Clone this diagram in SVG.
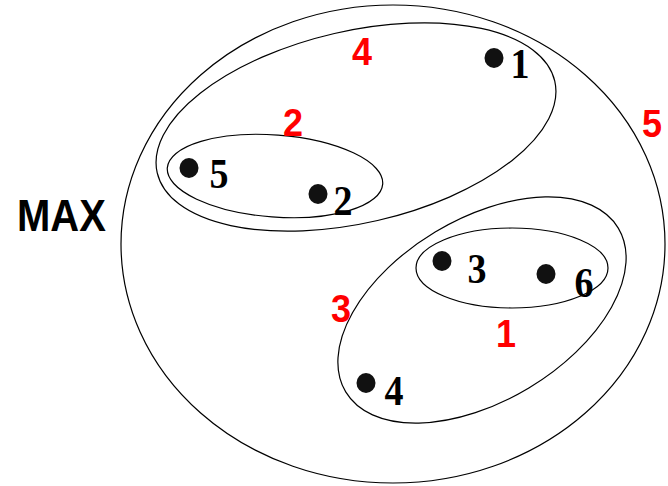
<svg xmlns="http://www.w3.org/2000/svg" width="668" height="486" viewBox="0 0 668 486">
<style>
.ring{fill:none;stroke:#000;stroke-width:1.2}
.dot{fill:#111}
.num{font-family:"Liberation Serif","Times New Roman",serif;font-weight:bold;font-size:38px;fill:#000;text-anchor:middle}
.red{font-family:"Liberation Sans",Arial,sans-serif;font-weight:bold;font-size:36px;fill:#ff0000;text-anchor:middle}
.max{font-family:"Liberation Sans",Arial,sans-serif;font-weight:bold;font-size:40px;fill:#000}
</style>
<rect width="668" height="486" fill="#fff"/>
<g id="connectors"/>
<g id="cluster5">
<ellipse class="ring" cx="393" cy="244" rx="272" ry="239"/>
<text class="red" transform="translate(652,137) scale(1,1.1)">5</text>
</g>
<g id="cluster4">
<ellipse class="ring" cx="356" cy="127" rx="204" ry="96" transform="rotate(-13 356 127)"/>
<text class="red" transform="translate(362,65) scale(1,1.1)">4</text>
</g>
<g id="cluster2">
<ellipse class="ring" cx="275" cy="176" rx="108" ry="41" transform="rotate(4.3 275 176)"/>
<text class="red" transform="translate(293,136) scale(1,1.1)">2</text>
</g>
<g id="cluster3">
<ellipse class="ring" cx="482" cy="310" rx="159" ry="91" transform="rotate(-31 482 310)"/>
<text class="red" transform="translate(341,322) scale(1,1.1)">3</text>
</g>
<g id="cluster1">
<ellipse class="ring" cx="512" cy="268" rx="96" ry="40"/>
<text class="red" transform="translate(506,347) scale(1,1.1)">1</text>
</g>
<g id="node1"><ellipse class="dot" cx="494" cy="58" rx="9.5" ry="10"/><text class="num" transform="translate(520,78) scale(1,1.1)">1</text></g>
<g id="node5"><ellipse class="dot" cx="189" cy="168" rx="9.5" ry="10"/><text class="num" transform="translate(219,188) scale(1,1.1)">5</text></g>
<g id="node2"><ellipse class="dot" cx="318" cy="194" rx="9.5" ry="10"/><text class="num" transform="translate(343,215) scale(1,1.1)">2</text></g>
<g id="node3"><ellipse class="dot" cx="442" cy="261" rx="9.5" ry="10"/><text class="num" transform="translate(477,283) scale(1,1.1)">3</text></g>
<g id="node6"><ellipse class="dot" cx="546" cy="274" rx="9.5" ry="10"/><text class="num" transform="translate(584,297) scale(1,1.1)">6</text></g>
<g id="node4"><ellipse class="dot" cx="366" cy="383" rx="9.5" ry="10"/><text class="num" transform="translate(394,405) scale(1,1.1)">4</text></g>
<g id="label-max"><text class="max" transform="translate(17,231) scale(1,1.1)">MAX</text></g>
</svg>
